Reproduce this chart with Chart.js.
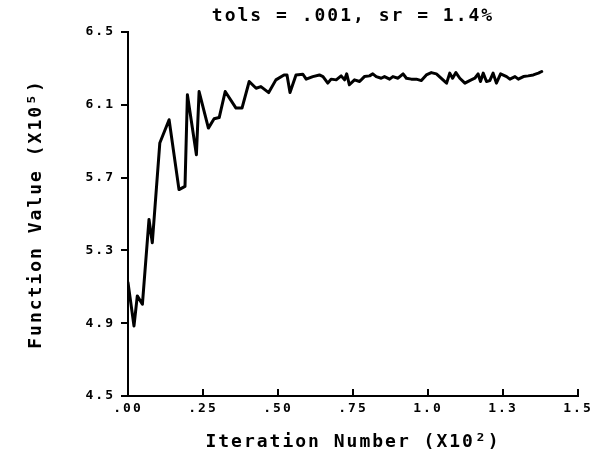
<!DOCTYPE html>
<html>
<head>
<meta charset="utf-8">
<script src="https://cdn.jsdelivr.net/npm/chart.js@4/dist/chart.umd.min.js"></script>
<style>
html,body{margin:0;padding:0;background:#fff;}
#c{display:block;}
</style>
</head>
<body>
<canvas id="c" width="599" height="457"></canvas>
<script>
// Iteration numbers (in units of 10^2) and function values (in units of 10^5)
const iterations = [
  0, 2, 3.1, 4.8, 7.0, 8.1, 10.6, 13.7, 17.0, 19.0, 19.8, 22.8, 23.7, 26.8, 28.7,
  30.4, 32.4, 36.0, 38.0, 40.4, 42.7, 44.3, 46.9, 49.3, 52.0, 53.0, 54.0, 56.0,
  58.3, 59.4, 61.6, 63.8, 65.0, 66.6, 67.7, 69.4, 71.05, 72.2, 72.9, 73.8, 75.5,
  77.2, 78.8, 80.5, 81.6, 82.75, 84.4, 85.5, 87.2, 88.3, 90.0, 91.7, 92.8, 94.44,
  96.1, 97.78, 99.45, 101.1, 102.8, 105.0, 106.2, 107.25, 108.2, 109.3, 110.6,
  112.3, 113.9, 115.6, 116.7, 117.5, 118.4, 119.5, 120.6, 121.7, 122.8, 124.2,
  126.2, 127.3, 129.0, 130.1, 131.8, 133.4, 135.1, 136.8, 137.9
];
const functionValues = [
  5.123, 4.885, 5.05, 5.004, 5.47, 5.342, 5.89, 6.018, 5.634, 5.652, 6.155, 5.826, 6.173, 5.972, 6.023,
  6.03, 6.173, 6.082, 6.082, 6.228, 6.191, 6.20, 6.167, 6.237, 6.264, 6.264, 6.167, 6.264,
  6.268, 6.241, 6.255, 6.264, 6.255, 6.219, 6.241, 6.237, 6.259, 6.237, 6.270, 6.21, 6.237,
  6.228, 6.255, 6.259, 6.270, 6.255, 6.246, 6.255, 6.241, 6.255, 6.246, 6.270, 6.246, 6.241,
  6.241, 6.233, 6.264, 6.277, 6.270, 6.237, 6.219, 6.274, 6.246, 6.277, 6.246,
  6.219, 6.233, 6.246, 6.270, 6.228, 6.274, 6.228, 6.233, 6.274, 6.219, 6.270,
  6.255, 6.241, 6.255, 6.241, 6.255, 6.259, 6.264, 6.274, 6.283
];
const xTickLabels = [".00", ".25", ".50", ".75", "1.0", "1.3", "1.5"];
const yTickLabels = ["4.5", "4.9", "5.3", "5.7", "6.1", "6.5"];
const chartTitle = "tols = .001, sr = 1.4%";
const xTitle = "Iteration Number (X10\u00B2)";
const yTitle = "Function Value (X10\u2075)";

const points = iterations.map((it, i) => ({x: it / 100, y: functionValues[i]}));

const FONT = "'DejaVu Sans Mono', 'Liberation Mono', monospace";
const SPACING = '2px';

const spacingPlugin = {
  id: 'spacing',
  beforeUpdate(c) { c.ctx.letterSpacing = SPACING; },
  beforeLayout(c) { c.ctx.letterSpacing = SPACING; },
  beforeDraw(c) {
    const ctx = c.ctx;
    ctx.save();
    ctx.letterSpacing = '0px';
    ctx.fillStyle = '#fff';
    ctx.fillRect(0, 0, c.width, c.height);
    ctx.restore();
    ctx.letterSpacing = SPACING;
  }
};

new Chart(document.getElementById('c'), {
  type: 'line',
  data: {
    datasets: [{
      data: points,
      borderColor: '#000',
      borderWidth: 3,
      pointRadius: 0,
      tension: 0,
      fill: false,
      borderJoinStyle: 'round',
      borderCapStyle: 'round'
    }]
  },
  options: {
    responsive: false,
    animation: false,
    devicePixelRatio: 1,
    layout: {padding: {left: 0, right: 21, top: 0, bottom: 0}},
    plugins: {
      legend: {display: false},
      tooltip: {enabled: false},
      title: {
        display: true,
        text: chartTitle,
        fullSize: false,
        color: '#000',
        font: {family: FONT, size: 18, weight: 'bold'},
        padding: {top: 6, bottom: 4.4}
      }
    },
    scales: {
      x: {
        type: 'linear',
        min: 0,
        max: 1.5,
        afterFit(s) { s.height = 61; s.paddingLeft = 0; s.paddingRight = 0; },
        ticks: {
          stepSize: 0.25,
          autoSkip: false,
          maxRotation: 0,
          color: '#000',
          font: {family: FONT, size: 13, weight: 'bold'},
          padding: 12,
          callback: (v, i) => xTickLabels[i]
        },
        grid: {display: true, drawOnChartArea: false, drawTicks: true, tickLength: -7, color: '#000', lineWidth: 2},
        border: {display: true, color: '#000', width: 2},
        title: {
          display: true,
          text: xTitle,
          color: '#000',
          font: {family: FONT, size: 18, weight: 'bold'},
          padding: {top: 0, bottom: 4}
        }
      },
      y: {
        type: 'linear',
        min: 4.5,
        max: 6.5,
        afterFit(s) { s.width = 128; s.paddingTop = 0; s.paddingBottom = 0; },
        ticks: {
          stepSize: 0.4,
          autoSkip: false,
          color: '#000',
          font: {family: FONT, size: 13, weight: 'bold'},
          padding: 6,
          callback: (v, i) => yTickLabels[i]
        },
        grid: {display: true, drawOnChartArea: false, drawTicks: true, tickLength: 7, color: '#000', lineWidth: 2},
        border: {display: true, color: '#000', width: 2},
        title: {
          display: true,
          text: yTitle,
          color: '#000',
          font: {family: FONT, size: 18, weight: 'bold'},
          padding: {top: 26, bottom: 0}
        }
      }
    }
  },
  plugins: [spacingPlugin]
});
</script>
</body>
</html>
